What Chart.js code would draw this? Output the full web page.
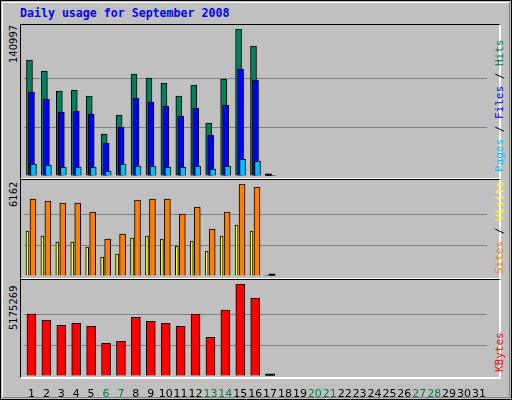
<!DOCTYPE html>
<html>
<head>
<meta charset="utf-8">
<script src="https://cdn.jsdelivr.net/npm/chart.js@4"></script>
<style>
  html, body { margin: 0; padding: 0; }
  body { width: 512px; height: 400px; overflow: hidden; background: #c0c0c0; position: relative; font-family: "DejaVu Sans Mono", monospace; }
  #frame { position: absolute; left: 0; top: 0; width: 510px; height: 398px; border: 1px solid #000; }
  #inner { position: absolute; left: 1px; top: 1px; width: 506px; height: 394px; border-top: 1px solid #fff; border-left: 1px solid #fff; border-right: 1px solid #808080; border-bottom: 1px solid #808080; }
  #title { position: absolute; left: 20px; top: 6px; color: #0000ff; font-weight: bold; font-size: 11.6px; }
  .panel { position: absolute; left: 20px; width: 481px; border-top: 1px solid #000; border-left: 1px solid #000; border-right: 2px solid #fff; border-bottom: 2px solid #fff; box-sizing: border-box; }
  .cv { position: absolute; left: 21px; }
  .ylab, .rlab { position: absolute; transform: rotate(-90deg); transform-origin: left top; white-space: nowrap; }
  .ylab { font-family: "DejaVu Sans", sans-serif; font-size: 10px; color: #000; left: 8px; }
  .rlab { font-size: 11px; left: 493px; }
</style>
</head>
<body>
<div id="frame"><div id="inner"></div></div>
<div id="title">Daily usage for September 2008</div>
<div class="panel" style="top:24px;height:156px"></div>
<div class="panel" style="top:179px;height:101px"></div>
<div class="panel" style="top:279px;height:100px"></div>
<div class="cv" style="top:25px"><canvas id="c1" width="469" height="152"></canvas></div>
<div class="cv" style="top:180px"><canvas id="c2" width="469" height="97"></canvas></div>
<div class="cv" style="top:280px"><canvas id="c3" width="469" height="120"></canvas></div>
<div class="ylab" style="top:63px">140997</div>
<div class="ylab" style="top:207px">6162</div>
<div class="ylab" style="top:330px">5175269</div>
<div class="rlab" style="top:172px"><span style="color:#00c0ff">Pages</span><span style="color:#000"> / </span><span style="color:#0000ff">Files</span><span style="color:#000"> / </span><span style="color:#00805c">Hits</span></div>
<div class="rlab" style="top:274px"><span style="color:#ff8000">Sites</span><span style="color:#000"> / </span><span style="color:#ffff00">Visits</span></div>
<div class="rlab" style="top:372px"><span style="color:#ff0000">KBytes</span></div>
<script>
const days = Array.from({ length: 31 }, (_, i) => String(i + 1));
const weekendDays = ['6', '7', '13', '14', '20', '21', '27', '28'];

const hits   = [111270, 100720, 81530, 82490, 76740, 40290, 58510, 97840, 94000, 89210, 76740, 87290, 50840, 93040, 140997, 124700, 0];
const files  = [80570, 73860, 61390, 62350, 59470, 31650, 47000, 74820, 70980, 67140, 57550, 65230, 39330, 68100, 102630, 92080, 0];
const pages  = [11510, 10550, 8630, 8630, 8630, 4800, 11510, 9590, 9590, 8630, 8630, 9590, 6710, 9590, 16310, 14390, 0];
const sites  = [5159, 5025, 4891, 4891, 4288, 2479, 2814, 5092, 5159, 5159, 4154, 4623, 3149, 4288, 6162, 5963, 0];
const visits = [3015, 2680, 2278, 2278, 1943, 1273, 1474, 2546, 2680, 2479, 2010, 2345, 1675, 2680, 3417, 3015, 0];
const kbytes = [3476600, 3136900, 2853800, 2967000, 2797100, 1834500, 1947800, 3306800, 3080200, 2967000, 2797100, 3476600, 2174300, 3703100, 5175269, 4382600, 0];

// shift each dataset a few pixels sideways, like the overlapped webalizer bars
const shiftPlugin = {
    id: 'shift',
    beforeDatasetDraw(chart, args) {
        const dx = chart.data.datasets[args.index].dx || 0;
        chart.ctx.save();
        chart.ctx.translate(dx, 0);
    },
    afterDatasetDraw(chart) {
        chart.ctx.restore();
    }
};

function barSet(values, color, width, dx, order, showZero) {
    return {
        data: values,
        dx: dx,
        order: order,
        grouped: false,
        barThickness: width,
        backgroundColor: c => c.raw === 0 ? '#000' : color,
        borderColor: '#000',
        borderWidth: c => c.raw === 0 ? 0 : 1,
        borderSkipped: 'bottom',
        minBarLength: showZero ? 2 : 0
    };
}

function makeChart(id, datasets, max, withLabels) {
    new Chart(document.getElementById(id), {
        type: 'bar',
        data: { labels: days, datasets: datasets },
        options: {
            responsive: false,
            animation: false,
            layout: { padding: { top: 4, bottom: withLabels ? 0 : 1, left: 3, right: 3 } },
            plugins: { legend: { display: false }, tooltip: { enabled: false } },
            scales: {
                x: {
                    display: withLabels,
                    grid: { display: false },
                    border: { display: false },
                    ticks: {
                        autoSkip: false,
                        maxRotation: 0,
                        padding: 4,
                        font: { family: 'DejaVu Sans', size: 11 },
                        color: c => weekendDays.includes(days[c.index]) ? '#008040' : '#000'
                    },
                    afterFit: s => { s.height = withLabels ? 24 : 0; }
                },
                y: {
                    display: true,
                    min: 0,
                    max: max,
                    afterBuildTicks: s => { s.ticks = [0, max / 3, 2 * max / 3, max].map(v => ({ value: v })); },
                    afterFit: s => { s.width = 0; },
                    ticks: { display: false },
                    border: { display: false },
                    grid: { color: c => (c.index === 1 || c.index === 2) ? '#808080' : 'rgba(0,0,0,0)', lineWidth: 1, drawTicks: false }
                }
            }
        },
        plugins: [shiftPlugin]
    });
}

makeChart('c1', [
    barSet(hits, '#00805c', 6, -2, 3, true),
    barSet(files, '#0000ff', 6, 0, 2, false),
    barSet(pages, '#00c0ff', 6, 2, 1, false)
], 140997, false);

makeChart('c2', [
    barSet(sites, '#ff8000', 6, 1.5, 2, true),
    barSet(visits, '#ffff00', 3, -4, 1, false)
], 6162, false);

makeChart('c3', [
    barSet(kbytes, '#ff0000', 9, 0, 1, true)
], 5175269, true);
</script>
</body>
</html>
